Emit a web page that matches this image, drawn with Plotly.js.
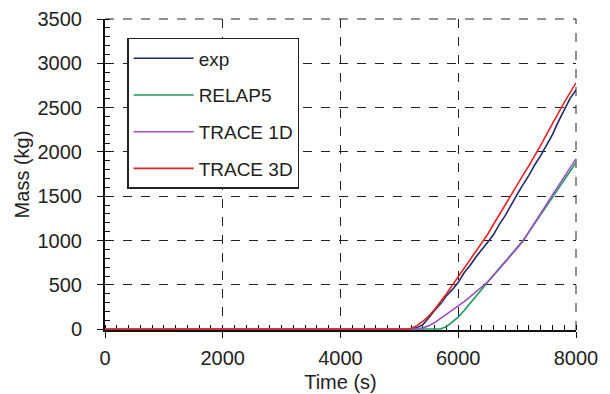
<!DOCTYPE html>
<html>
<head>
<meta charset="utf-8">
<script src="https://cdn.plot.ly/plotly-3.0.1.min.js"></script>
<style>html,body{margin:0;padding:0;background:#fff}#chart{width:610px;height:394px}</style>
</head>
<body>
<div id="chart"></div>
<script>
const time = [0, 5000, 5100, 5200, 5300, 5400, 5500, 5600, 5700, 5800, 5900, 6000,
  6100, 6200, 6300, 6400, 6500, 6600, 6700, 6800, 6900, 7000,
  7100, 7200, 7300, 7400, 7500, 7600, 7700, 7800, 7900, 8000];
const exp = [0, 0, 0, 2, 18, 52, 128, 214, 286, 378, 446, 529,
  636, 718, 815, 892, 981, 1068, 1186, 1284, 1408, 1521,
  1632, 1736, 1856, 1958, 2078, 2196, 2342, 2476, 2604, 2700];
const relap5 = [0, 0, 0, 0, 0, 0, 0, 0, 2, 30, 80, 135,
  210, 290, 375, 460, 540, 615, 690, 765, 845, 925,
  1000, 1095, 1195, 1290, 1390, 1490, 1590, 1685, 1785, 1880];
const trace1d = [0, 0, 0, 0, 3, 15, 40, 75, 120, 165, 210, 259,
  310, 365, 420, 475, 535, 605, 680, 760, 840, 915,
  995, 1095, 1200, 1305, 1410, 1515, 1615, 1720, 1820, 1922];
const trace3d = [0, 0, 0, 10, 40, 90, 150, 225, 310, 400, 495, 590,
  688, 780, 872, 964, 1071, 1184, 1297, 1410, 1521, 1630,
  1738, 1846, 1955, 2073, 2197, 2320, 2444, 2560, 2670, 2780];
const names = ["exp", "RELAP5", "TRACE 1D", "TRACE 3D"];
const colors = ["#1f2a6e", "#1a9a5a", "#9b4fc0", "#e8231f"];
const series = [exp, relap5, trace1d, trace3d];

const traces = series.map((s, i) => ({
  x: time, y: s, type: "scatter", mode: "lines", name: names[i],
  legendgroup: "g" + i, cliponaxis: false,
  line: {color: colors[i], width: 1.6}
}));

const fam = "Liberation Sans, Arial, sans-serif";
const font = {family: fam, size: 20, color: "#222"};
const layout = {
  width: 610, height: 394,
  margin: {l: 105, r: 34, t: 19, b: 64},
  paper_bgcolor: "#fff", plot_bgcolor: "#fff",
  font: font,
  showlegend: true,
  legend: {
    x: 0.047, y: 0.939, xanchor: "left", yanchor: "top",
    bgcolor: "#fff", bordercolor: "#222", borderwidth: 1.5,
    font: {family: fam, size: 19, color: "#222"},
    tracegroupgap: 9, itemwidth: 60
  },
  xaxis: {
    range: [0, 8000], dtick: 2000, tick0: 0,
    showline: true, linecolor: "#111", linewidth: 2, layer: "below traces",
    ticks: "outside", ticklen: 6, tickcolor: "#111", tickwidth: 1,
    ticklabelstandoff: 3,
    showgrid: true, gridcolor: "#222", griddash: "dash", gridwidth: 1,
    zeroline: false,
    minor: {ticks: "inside", dtick: 200, ticklen: 5, tickcolor: "#111", tickwidth: 1, showgrid: false},
    title: {text: "Time (s)", font: font, standoff: 7},
    tickfont: font
  },
  yaxis: {
    range: [-9, 3500], dtick: 500, tick0: 0,
    showline: true, linecolor: "#111", linewidth: 2, layer: "below traces",
    ticks: "outside", ticklen: 6, tickcolor: "#111", tickwidth: 1,
    ticklabelstandoff: 11,
    showgrid: true, gridcolor: "#222", griddash: "dash", gridwidth: 1,
    zeroline: false,
    minor: {ticks: "inside", dtick: 100, ticklen: 5, tickcolor: "#111", tickwidth: 1, showgrid: false},
    title: {text: "Mass (kg)", font: font, standoff: 3},
    tickfont: font
  },
  shapes: [
    {type: "line", xref: "paper", yref: "paper", x0: 0, x1: 1, y0: 1, y1: 1, layer: "below", line: {color: "#222", width: 1, dash: "dash"}},
    {type: "line", xref: "paper", yref: "paper", x0: 1, x1: 1, y0: 0, y1: 1, layer: "below", line: {color: "#222", width: 1, dash: "dash"}}
  ]
};
Plotly.newPlot("chart", traces, layout, {displayModeBar: false, staticPlot: true});
</script>
</body>
</html>
